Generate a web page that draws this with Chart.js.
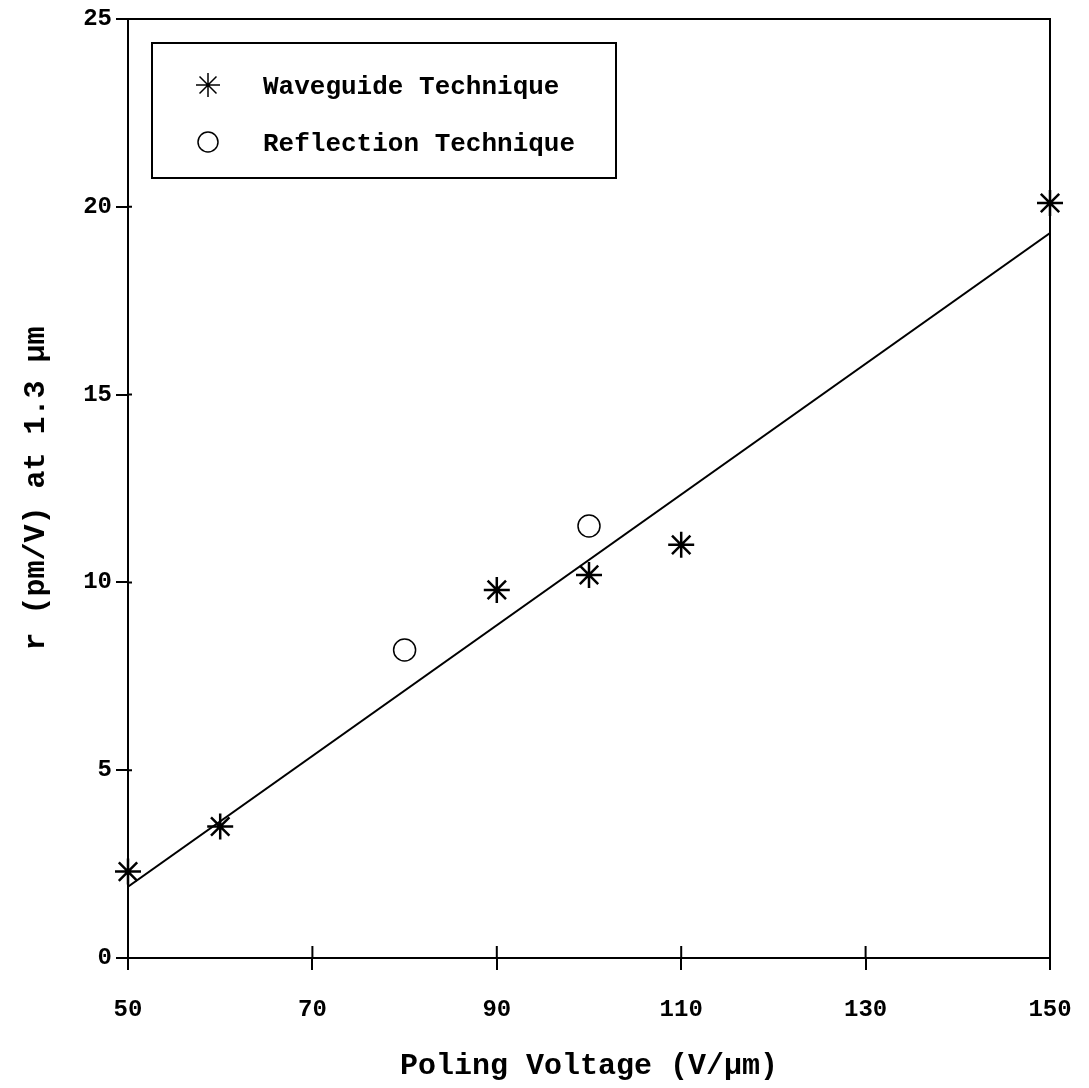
<!DOCTYPE html>
<html>
<head>
<meta charset="utf-8">
<script src="https://cdn.jsdelivr.net/npm/chart.js@4/dist/chart.umd.min.js"></script>
<style>
html, body { margin: 0; padding: 0; background: #fff; }
</style>
</head>
<body>
<canvas id="mycanvas" width="1089" height="1088"></canvas>
<script>
// values
var waveguideX = [50, 60, 90, 100, 110, 150];
var waveguideY = [2.3, 3.5, 9.8, 10.2, 11.0, 20.1];
var reflectionX = [80, 100];
var reflectionY = [8.2, 11.5];
var fitX = [50, 150];
var fitY = [1.9, 19.3];
var xTicks = [50, 70, 90, 110, 130, 150];
var yTicks = [0, 5, 10, 15, 20, 25];

function toPoints(xs, ys) {
	var pts = [];
	for (var i in xs) {
		pts.push({x: xs[i], y: ys[i]});
	}
	return pts;
}

var fontFamily = "'Liberation Mono', 'DejaVu Sans Mono', monospace";

// frame, inner tick marks and the boxed legend inside the plot
var framePlugin = {
	id: 'framePlugin',
	afterDraw: function(chart) {
		var ctx = chart.ctx;
		var a = chart.chartArea;
		var xs = chart.scales.x, ys = chart.scales.y;
		ctx.save();
		ctx.strokeStyle = '#000';
		ctx.lineWidth = 2;
		ctx.strokeRect(a.left, a.top, a.right - a.left, a.bottom - a.top);

		ctx.beginPath();
		xTicks.forEach(function(v) {
			var px = xs.getPixelForValue(v);
			ctx.moveTo(px, a.bottom);
			ctx.lineTo(px, a.bottom - 12);
		});
		yTicks.forEach(function(v) {
			var py = ys.getPixelForValue(v);
			ctx.moveTo(a.left, py);
			ctx.lineTo(a.left + 4, py);
		});
		ctx.stroke();

		// legend box
		var lx = a.left + 24, ly = a.top + 24, lw = 464, lh = 135;
		ctx.strokeRect(lx, ly, lw, lh);
		ctx.font = 'bold 26px ' + fontFamily;
		ctx.textBaseline = 'middle';
		ctx.textAlign = 'left';
		var items = chart.data.datasets.filter(function(d) { return d.inLegend; });
		items.forEach(function(d, i) {
			var cy = ly + 42 + i * 57;
			ctx.fillStyle = '#fff';
			ctx.strokeStyle = '#000';
			ctx.lineWidth = 1.5;
			Chart.helpers.drawPoint(ctx, {pointStyle: d.pointStyle, radius: d.pointRadius - 1, borderWidth: 1.5, rotation: 0}, lx + 56, cy);
			ctx.fillStyle = '#000';
			ctx.fillText(d.label, lx + 111, cy + 2);
		});
		ctx.restore();
	}
};

var chartdata = {
	datasets: [
		{
			label: 'Fit',
			type: 'line',
			data: toPoints(fitX, fitY),
			borderColor: '#000',
			borderWidth: 2,
			pointRadius: 0,
			fill: false
		},
		{
			label: 'Waveguide Technique',
			inLegend: true,
			data: toPoints(waveguideX, waveguideY),
			pointStyle: 'star',
			pointRadius: 13,
			borderColor: '#000',
			backgroundColor: '#000',
			borderWidth: 2.5,
			clip: false
		},
		{
			label: 'Reflection Technique',
			inLegend: true,
			data: toPoints(reflectionX, reflectionY),
			pointStyle: 'circle',
			pointRadius: 11,
			borderColor: '#000',
			backgroundColor: '#fff',
			borderWidth: 1.5,
			clip: false
		}
	]
};

var ctx = document.getElementById('mycanvas');

var scatter = new Chart(ctx, {
	type: 'scatter',
	data: chartdata,
	plugins: [framePlugin],
	options: {
		responsive: false,
		animation: false,
		devicePixelRatio: 1,
		layout: { padding: { top: 19, right: 39, left: 0, bottom: 0 } },
		plugins: {
			legend: { display: false },
			tooltip: { enabled: false }
		},
		scales: {
			x: {
				type: 'linear',
				min: 50,
				max: 150,
				afterBuildTicks: function(scale) {
					scale.ticks = xTicks.map(function(v) { return {value: v}; });
				},
				afterFit: function(scale) {
					scale.height = 130;
					scale.paddingLeft = 0;
					scale.paddingRight = 0;
				},
				grid: { drawOnChartArea: false, tickLength: 12, color: '#000', lineWidth: 2 },
				border: { display: true, color: '#000', width: 2 },
				ticks: {
					color: '#000',
					padding: 26,
					maxRotation: 0,
					font: { family: fontFamily, size: 24, weight: 'bold' }
				},
				title: {
					display: true,
					text: 'Poling Voltage (V/μm)',
					color: '#000',
					padding: { top: 6 },
					font: { family: fontFamily, size: 30, weight: 'bold' }
				}
			},
			y: {
				min: 0,
				max: 25,
				afterBuildTicks: function(scale) {
					scale.ticks = yTicks.map(function(v) { return {value: v}; });
				},
				afterFit: function(scale) { scale.width = 128; },
				grid: { drawOnChartArea: false, tickLength: 12, color: '#000', lineWidth: 2 },
				border: { display: true, color: '#000', width: 2 },
				ticks: {
					color: '#000',
					padding: 4,
					font: { family: fontFamily, size: 24, weight: 'bold' }
				},
				title: {
					display: true,
					text: 'r (pm/V) at 1.3 μm',
					color: '#000',
					padding: { top: 18 },
					font: { family: fontFamily, size: 30, weight: 'bold' }
				}
			}
		}
	}
});
</script>
</body>
</html>
